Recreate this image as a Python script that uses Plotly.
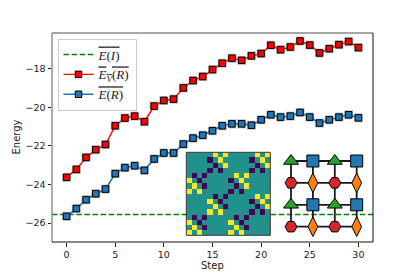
import plotly.graph_objects as go

# ---------------- data ----------------
steps = list(range(31))
e_v_r = [-23.63, -23.22, -22.60, -22.20, -21.93, -20.96, -20.56, -20.46, -20.75, -19.94,
         -19.65, -19.58, -19.00, -18.62, -18.41, -18.05, -17.72, -17.46, -17.57, -17.34,
         -17.22, -16.79, -17.02, -16.88, -16.57, -16.78, -17.19, -16.97, -16.76, -16.60, -16.91]
e_r = [-25.65, -25.25, -24.79, -24.48, -24.24, -23.44, -23.13, -23.03, -23.27, -22.68,
       -22.37, -22.37, -21.91, -21.60, -21.45, -21.22, -20.96, -20.86, -20.86, -20.93,
       -20.65, -20.39, -20.51, -20.46, -20.27, -20.51, -20.82, -20.65, -20.51, -20.39, -20.55]
e_r_err = [0.15, 0.15, 0.15, 0.15, 0.15, 0.15, 0.15, 0.15, 0.15, 0.15,
           0.15, 0.15, 0.15, 0.15, 0.15, 0.15, 0.15, 0.15, 0.15, 0.15,
           0.15, 0.15, 0.15, 0.15, 0.15, 0.15, 0.15, 0.15, 0.15, 0.15, 0.15]
e_i = -25.56

x_ticks = [0, 5, 10, 15, 20, 25, 30]
y_ticks = [-26, -24, -22, -20, -18]

matrix = [
    [0, 0, 0, 0, 0, 1, 0, 1, 0, 0, 0, 0, 0, 1, 0, 1],
    [0, 0, 0, 0, -1, 0, 1, 0, 0, 0, 0, 0, -1, 0, 1, 0],
    [0, 0, 0, 0, 0, -1, 0, 1, 0, 0, 0, 0, 0, -1, 0, 1],
    [0, 0, 0, 0, -1, 0, -1, 0, 0, 0, 0, 0, -1, 0, -1, 0],
    [0, -1, 0, -1, 0, 0, 0, 0, 0, 1, 0, 1, 0, 0, 0, 0],
    [1, 0, -1, 0, 0, 0, 0, 0, -1, 0, 1, 0, 0, 0, 0, 0],
    [0, 1, 0, -1, 0, 0, 0, 0, 0, -1, 0, 1, 0, 0, 0, 0],
    [1, 0, 1, 0, 0, 0, 0, 0, -1, 0, -1, 0, 0, 0, 0, 0],
    [0, 0, 0, 0, 0, -1, 0, -1, 0, 0, 0, 0, 0, 1, 0, 1],
    [0, 0, 0, 0, 1, 0, -1, 0, 0, 0, 0, 0, -1, 0, 1, 0],
    [0, 0, 0, 0, 0, 1, 0, -1, 0, 0, 0, 0, 0, -1, 0, 1],
    [0, 0, 0, 0, 1, 0, 1, 0, 0, 0, 0, 0, -1, 0, -1, 0],
    [0, -1, 0, -1, 0, 0, 0, 0, 0, -1, 0, -1, 0, 0, 0, 0],
    [1, 0, -1, 0, 0, 0, 0, 0, 1, 0, -1, 0, 0, 0, 0, 0],
    [0, 1, 0, -1, 0, 0, 0, 0, 0, 1, 0, -1, 0, 0, 0, 0],
    [1, 0, 1, 0, 0, 0, 0, 0, 1, 0, 1, 0, 0, 0, 0, 0],
]

# lattice sites: (column, row, kind)
lattice_cols = [0, 1, 2, 3]
lattice_rows = [0, 1, 2, 3]
lattice_kinds = [
    ["tri", "sq", "tri", "sq"],
    ["hex", "dia", "hex", "dia"],
    ["tri", "sq", "tri", "sq"],
    ["hex", "dia", "hex", "dia"],
]

# ---------------- styles ----------------
kind_style = {
    "tri": dict(symbol="triangle-up", color="#2ca02c", size=13),
    "sq": dict(symbol="square", color="#1f77b4", size=12),
    "hex": dict(symbol="hexagon2", color="#d62728", size=12),
    "dia": dict(symbol="diamond-tall", color="#ff7f0e", size=14),
}

OFF = 8  # page body margin
W, H = 415 - OFF, 277 - OFF
L, R, T, B = 52 - OFF, 42, 33 - OFF, 35
pw, ph = W - L - R, H - T - B


def px_x(p):
    return (p - OFF - L) / pw


def px_y(p):
    return (H - B - (p - OFF)) / ph


fig = go.Figure()

# E(I) dashed line across the axes
fig.add_trace(go.Scatter(
    x=[-1.5, 31.5], y=[e_i, e_i], mode="lines",
    line=dict(color="#008000", width=1.5, dash="5.5px,2.6px"),
    name='<span style="text-decoration:overline"><i>E</i>(<i>I</i>)</span>',
))

# halo for red markers
fig.add_trace(go.Scatter(
    x=steps, y=e_v_r, mode="markers", showlegend=False, hoverinfo="skip",
    marker=dict(symbol="square", size=9, color="rgba(150,150,150,0.6)", line=dict(width=0)),
))
fig.add_trace(go.Scatter(
    x=steps, y=e_v_r, mode="lines+markers",
    line=dict(color="#ff0000", width=1.4),
    marker=dict(symbol="square", size=6.5, color="#ff0000", line=dict(color="black", width=1)),
    name='<span style="text-decoration:overline"><i>E<sub>V</sub></i>(<i>R</i>)</span>',
))

# halo for blue markers
fig.add_trace(go.Scatter(
    x=steps, y=e_r, mode="markers", showlegend=False, hoverinfo="skip",
    marker=dict(symbol="square", size=9, color="rgba(150,150,150,0.6)", line=dict(width=0)),
))
fig.add_trace(go.Scatter(
    x=steps, y=e_r, mode="lines+markers",
    line=dict(color="#1f77b4", width=1.6),
    error_y=dict(type="data", array=e_r_err, color="#1f77b4", thickness=1, width=3),
    marker=dict(symbol="square", size=6.5, color="#1f77b4", line=dict(color="black", width=1)),
    name='<span style="text-decoration:overline"><i>E</i>(<i>R</i>)</span>',
))

# matrix inset
fig.add_trace(go.Heatmap(
    z=matrix, xaxis="x2", yaxis="y2", showscale=False, hoverinfo="skip",
    zmin=-1, zmax=1,
    colorscale=[[0, "#440154"], [0.5, "#21918c"], [1, "#fde725"]],
))

# lattice inset: bonds
bx, by = [], []
for r in lattice_rows:
    bx += [lattice_cols[0], lattice_cols[-1], None]
    by += [r, r, None]
for c in lattice_cols:
    bx += [c, c, None]
    by += [lattice_rows[0], lattice_rows[-1], None]
fig.add_trace(go.Scatter(
    x=bx, y=by, mode="lines", xaxis="x3", yaxis="y3", showlegend=False,
    hoverinfo="skip", line=dict(color="#1a1a1a", width=1.8),
))
for kind, st in kind_style.items():
    xs, ys = [], []
    for r in lattice_rows:
        for c in lattice_cols:
            if lattice_kinds[r][c] == kind:
                xs.append(c)
                ys.append(r)
    fig.add_trace(go.Scatter(
        x=xs, y=ys, mode="markers", xaxis="x3", yaxis="y3", showlegend=False,
        hoverinfo="skip",
        marker=dict(symbol=st["symbol"], size=st["size"], color=st["color"],
                    line=dict(color="black", width=1)),
    ))

tick_font = dict(family="DejaVu Sans", size=9.5, color="#222222")
title_font = dict(family="DejaVu Sans", size=10, color="#222222")

fig.update_layout(
    width=W, height=H,
    margin=dict(l=L, r=R, t=T, b=B),
    paper_bgcolor="white", plot_bgcolor="rgba(0,0,0,0)",
    showlegend=True,
    legend=dict(
        x=px_x(57.5), y=px_y(38.5), xanchor="left", yanchor="top",
        bgcolor="rgba(255,255,255,0.85)", bordercolor="#cccccc", borderwidth=1,
        font=dict(family="Liberation Serif", size=13, color="#222222"),
        tracegroupgap=0,
    ),
    xaxis=dict(
        range=[-1.5, 31.5], tickvals=x_ticks, ticks="outside", ticklen=3.5,
        tickwidth=0.8, tickcolor="#222222", showgrid=False, zeroline=False,
        showline=False, tickfont=tick_font, fixedrange=True,
    ),
    yaxis=dict(
        range=[-26.98, -16.155], tickvals=y_ticks, ticks="outside", ticklen=3.5,
        tickwidth=0.8, tickcolor="#222222", showgrid=False, zeroline=False,
        showline=False, tickfont=tick_font, fixedrange=True,
    ),
    xaxis2=dict(domain=[px_x(186.3), px_x(270.3)], anchor="y2", visible=False,
                range=[-0.5, 15.5], fixedrange=True),
    yaxis2=dict(domain=[px_y(235.3), px_y(152.3)], anchor="x2", visible=False,
                range=[15.5, -0.5], fixedrange=True),
    xaxis3=dict(domain=[px_x(280.05), px_x(367.65)], anchor="y3", visible=False,
                range=[-0.5, 3.5], fixedrange=True),
    yaxis3=dict(domain=[px_y(237.65), px_y(150.05)], anchor="x3", visible=False,
                range=[3.5, -0.5], fixedrange=True),
    annotations=[
        dict(text="Energy", xref="paper", yref="paper", x=px_x(16), y=0.5,
             textangle=-90, showarrow=False, font=title_font,
             xanchor="center", yanchor="middle"),
        dict(text="Step", xref="paper", yref="paper", x=px_x(212), y=px_y(265.5),
             showarrow=False, font=title_font, xanchor="center", yanchor="middle"),
    ],
    shapes=[
        # matrix border
        dict(type="rect", xref="paper", yref="paper",
             x0=px_x(186.3), x1=px_x(270.3), y0=px_y(235.3), y1=px_y(152.3),
             line=dict(color="#333333", width=1)),
        # spines
        dict(type="line", xref="paper", yref="paper", x0=0, x1=0, y0=0, y1=1,
             line=dict(color="#8a8a8a", width=1.4)),
        dict(type="line", xref="paper", yref="paper", x0=0, x1=1, y0=1, y1=1,
             line=dict(color="#8a8a8a", width=1.4)),
        dict(type="line", xref="paper", yref="paper", x0=1, x1=1, y0=0, y1=1,
             line=dict(color="#111111", width=1)),
        dict(type="line", xref="paper", yref="paper", x0=0, x1=1, y0=0, y1=0,
             line=dict(color="#111111", width=1)),
    ],
)

fig.write_html("out.html")
